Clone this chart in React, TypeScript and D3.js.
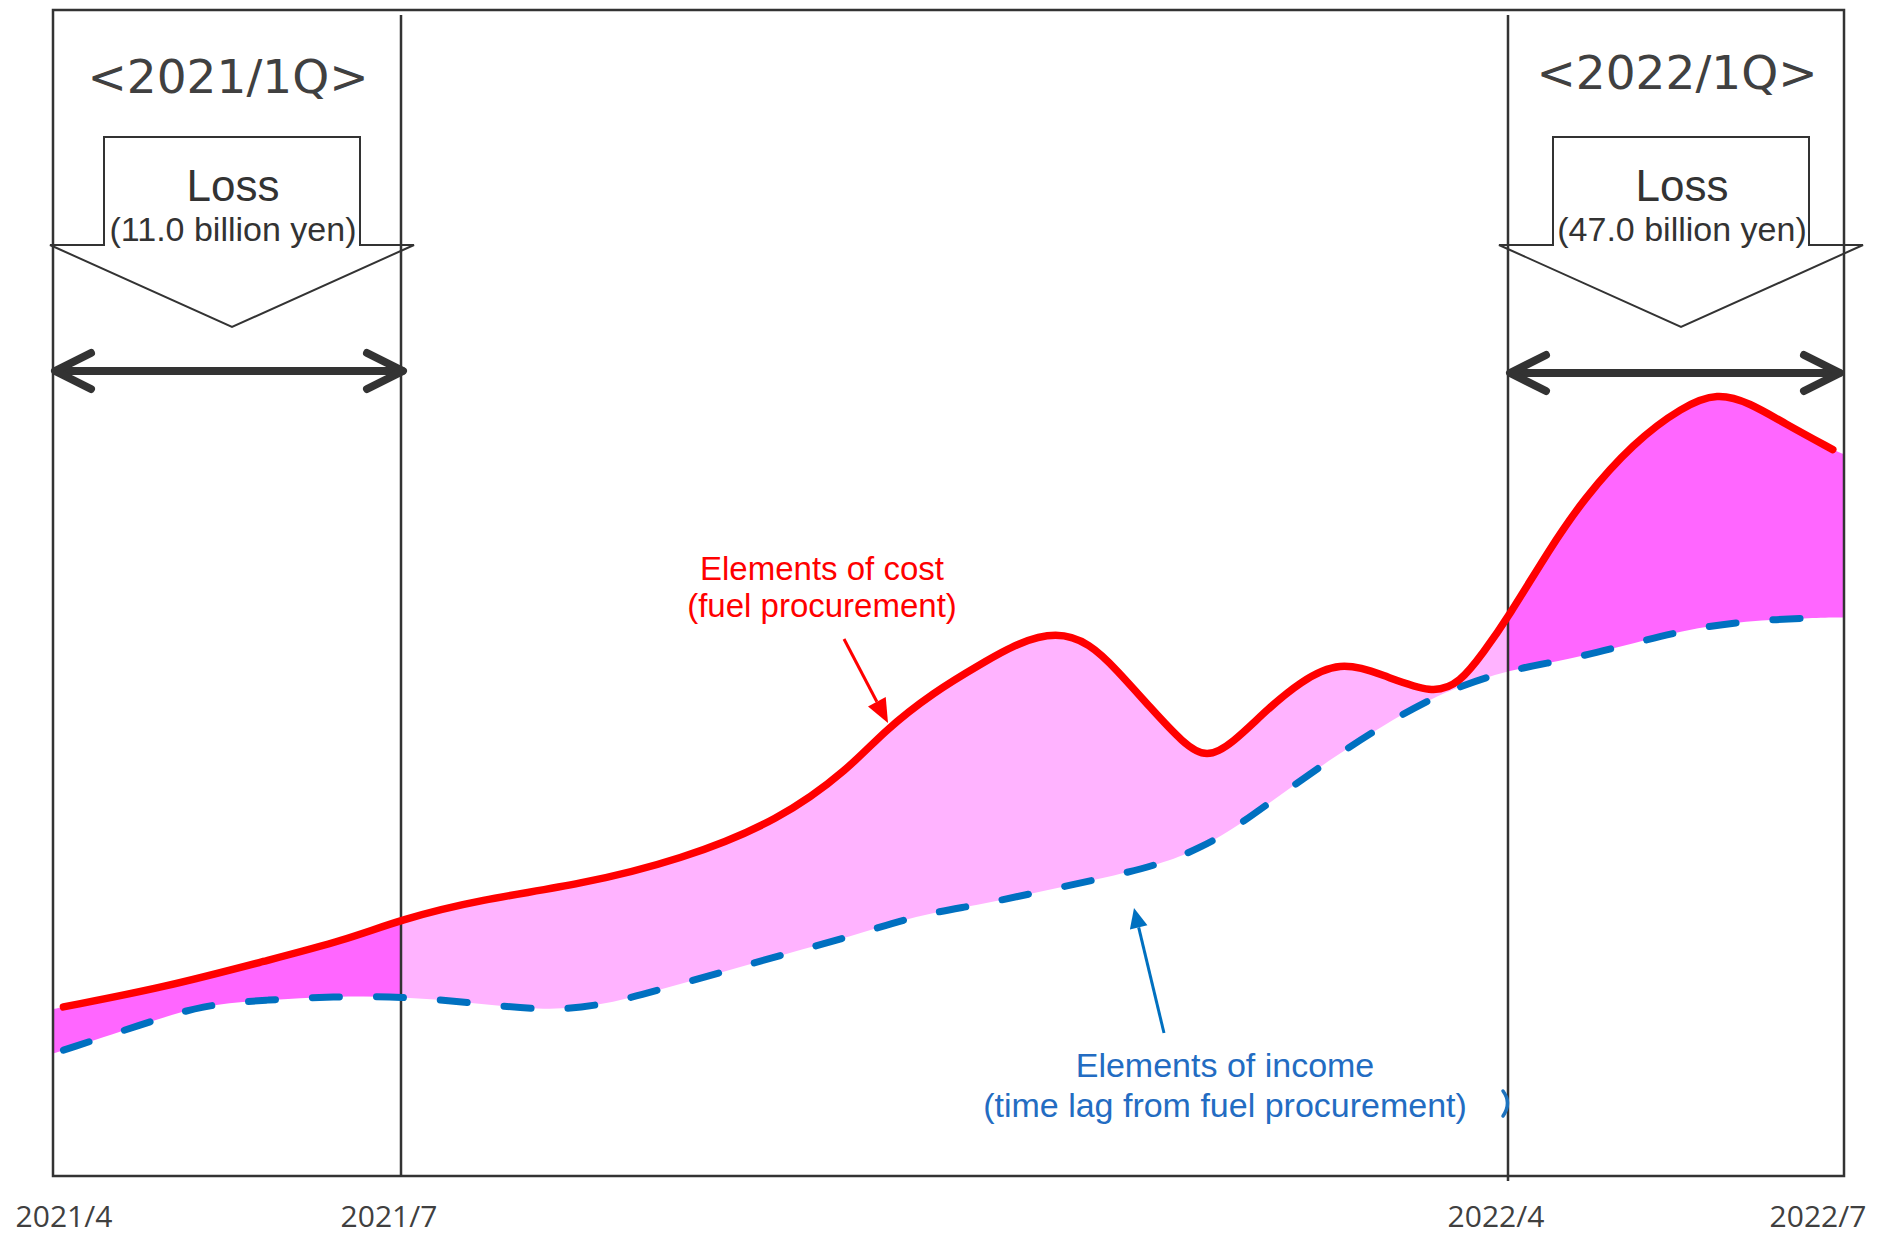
import React from 'react';
import * as d3 from 'd3';

const W = 1881;
const H = 1236;

// Month offsets counted from April 2021
const tickMonths = [0, 3, 12, 15];
const tickLabels = ['2021/4', '2021/7', '2022/4', '2022/7'];

// Cost of fuel procurement (index level)
const costMonths = [0, 0.09, 0.97, 1.85, 2.51, 3.0, 3.64, 4.46, 5.27, 6.08, 6.65, 6.92, 7.33, 7.73, 8.01, 8.33, 8.6, 8.82, 9.09, 9.36, 9.55, 9.76, 10.04, 10.31, 10.63, 10.98, 11.39, 11.61, 11.8, 12.0, 12.38, 12.67, 13.12, 13.56, 13.87, 14.16, 14.46, 14.9, 15];
const costValues = [14.3, 14.5, 16.2, 18.5, 20.2, 22.0, 23.7, 25.0, 27.1, 30.5, 35.0, 38.1, 41.5, 44.0, 45.7, 46.7, 45.7, 43.4, 40.2, 37.1, 35.8, 37.1, 40.0, 42.4, 44.2, 43.0, 41.3, 42.3, 44.9, 47.9, 53.9, 58.0, 62.9, 66.0, 67.2, 66.3, 64.6, 62.3, 61.9];

// Income, lagging behind procurement (index level)
const incomeMonths = [0, 0.09, 0.77, 1.29, 1.85, 2.41, 3.01, 3.54, 4.13, 4.59, 5.11, 5.62, 6.14, 6.65, 7.2, 7.68, 8.2, 8.74, 9.23, 9.5, 9.72, 10.15, 10.58, 11.02, 11.39, 11.59, 12.0, 12.55, 13.12, 13.7, 14.27, 14.81, 15];
const incomeValues = [10.5, 10.8, 13.0, 14.7, 15.1, 15.4, 15.4, 14.9, 14.2, 14.5, 16.0, 17.5, 19.1, 20.5, 22.4, 23.2, 24.4, 25.6, 26.9, 28.2, 29.4, 32.7, 35.9, 38.9, 41.0, 41.9, 43.4, 44.3, 45.7, 47.1, 47.7, 47.9, 47.9];

// Highlighted quarters
const quarterLabels = ['<2021/1Q>', '<2022/1Q>'];
const quarterStart = [0, 12];
const quarterEnd = [3, 15];
const lossAmounts = ['(11.0 billion yen)', '(47.0 billion yen)'];

const x = d3.scaleLinear().domain([0, 3, 12, 15]).range([53, 401, 1508, 1844]);
const y = d3.scaleLinear().domain([0, 100]).range([1176, 10]);

const line = d3
  .line<[number, number]>()
  .x((d) => x(d[0]))
  .y((d) => y(d[1]))
  .curve(d3.curveBasis);

const costPts: [number, number][] = costMonths.map((m, i) => [m, costValues[i]]);
const incomePts: [number, number][] = incomeMonths.map((m, i) => [m, incomeValues[i]]);

const m0 = tickMonths[0];
const m1 = tickMonths[tickMonths.length - 1];
const inner = (p: [number, number]) => p[0] > m0 && p[0] < m1;

const bandPath =
  (line(costPts) as string) +
  'L' +
  (line(incomePts.slice().reverse()) as string).slice(1) +
  'Z';

const DARK = '#333333';
const TEXT_GRAY = '#404040';
const SANS = '"Liberation Sans", Arial, sans-serif';

function Callout({ i }: { i: number }) {
  const c = (x(quarterStart[i]) + x(quarterEnd[i])) / 2 + 5;
  const top = 137;
  const shoulder = 245;
  const tip = 327;
  const bw = 128;
  const sw = 182;
  const pts = [
    [c - bw, top],
    [c + bw, top],
    [c + bw, shoulder],
    [c + sw, shoulder],
    [c, tip],
    [c - sw, shoulder],
    [c - bw, shoulder],
  ];
  const titleY = i === 0 ? 93 : 89;
  return (
    <g>
      <text
        x={c - 4}
        y={titleY}
        textAnchor="middle"
        fontFamily='"DejaVu Sans", sans-serif'
        fontSize={47}
        fill={TEXT_GRAY}
      >
        {quarterLabels[i]}
      </text>
      <polygon points={pts.map((p) => p.join(',')).join(' ')} fill="none" stroke={DARK} strokeWidth={2} />
      <text x={c + 1} y={201} textAnchor="middle" fontFamily={SANS} fontSize={44} fill={DARK}>
        Loss
      </text>
      <text x={c + 1} y={241} textAnchor="middle" fontFamily={SANS} fontSize={34} fill={DARK}>
        {lossAmounts[i]}
      </text>
    </g>
  );
}

function SpanArrow({ i }: { i: number }) {
  const a = x(quarterStart[i]);
  const b = x(quarterEnd[i]) + (i === 0 ? 4 : -2);
  const yy = i === 0 ? 371 : 373;
  const ax = 38;
  const ay = 18;
  return (
    <g fill="none" stroke={DARK} strokeWidth={8} strokeLinecap="round" strokeLinejoin="round">
      <line x1={a + 3} y1={yy} x2={b - 3} y2={yy} />
      <polyline points={`${a + ax},${yy - ay} ${a + 2},${yy} ${a + ax},${yy + ay}`} />
      <polyline points={`${b - ax},${yy - ay} ${b - 2},${yy} ${b - ax},${yy + ay}`} />
    </g>
  );
}

function Pointer({ x1, y1, x2, y2, color, len, half }: any) {
  const ang = Math.atan2(y2 - y1, x2 - x1);
  const bx = x2 - len * Math.cos(ang);
  const by = y2 - len * Math.sin(ang);
  const px = -Math.sin(ang) * half;
  const py = Math.cos(ang) * half;
  return (
    <g>
      <line x1={x1} y1={y1} x2={bx} y2={by} stroke={color} strokeWidth={3} />
      <polygon points={`${x2},${y2} ${bx + px},${by + py} ${bx - px},${by - py}`} fill={color} />
    </g>
  );
}

export default function App() {
  const segments = [
    { from: quarterStart[0], to: quarterEnd[0], color: '#FF66FF' },
    { from: quarterEnd[0], to: quarterStart[1], color: '#FFB3FF' },
    { from: quarterStart[1], to: quarterEnd[1], color: '#FF66FF' },
  ];
  const labelHalf = 50;
  return (
    <svg
      width={W}
      height={H}
      viewBox={`0 0 ${W} ${H}`}
      style={{ position: 'absolute', left: 0, top: 0, background: '#fff' }}
    >
      <defs>
        {segments.map((s, i) => (
          <clipPath id={`seg${i}`} key={i}>
            <rect x={x(s.from)} y={0} width={x(s.to) - x(s.from)} height={H} />
          </clipPath>
        ))}
      </defs>

      {/* spread between cost and income */}
      {segments.map((s, i) => (
        <path key={i} d={bandPath} fill={s.color} clipPath={`url(#seg${i})`} />
      ))}

      {/* quarter boundaries */}
      <line x1={x(3)} y1={15} x2={x(3)} y2={y(0)} stroke={DARK} strokeWidth={2.5} />
      <line x1={x(12)} y1={15} x2={x(12)} y2={y(0) + 5} stroke={DARK} strokeWidth={2.5} />

      {/* plot frame */}
      <rect
        x={x(m0)}
        y={y(100)}
        width={x(m1) - x(m0)}
        height={y(0) - y(100)}
        fill="none"
        stroke={DARK}
        strokeWidth={2.5}
      />

      {/* income line */}
      <path
        d={line(incomePts.filter(inner)) as string}
        fill="none"
        stroke="#0070C0"
        strokeWidth={7}
        strokeDasharray="27 37"
        strokeLinecap="round"
      />
      {/* cost line */}
      <path
        d={line(costPts.filter(inner)) as string}
        fill="none"
        stroke="#FF0000"
        strokeWidth={7.5}
        strokeLinecap="round"
        strokeLinejoin="round"
      />

      {/* small stray mark beside the 2022/4 boundary */}
      <path d="M1503,1091 Q1512,1103 1503,1116" fill="none" stroke="#1E73BE" strokeWidth={3.5} strokeLinecap="round" />

      {/* quarter callouts */}
      {quarterLabels.map((_, i) => (
        <Callout key={i} i={i} />
      ))}
      {quarterLabels.map((_, i) => (
        <SpanArrow key={i} i={i} />
      ))}

      {/* cost annotation */}
      <text x={822} y={580} textAnchor="middle" fontFamily={SANS} fontSize={33} fill="#FF0000">
        Elements of cost
      </text>
      <text x={822} y={617} textAnchor="middle" fontFamily={SANS} fontSize={33} fill="#FF0000">
        (fuel procurement)
      </text>
      <Pointer x1={844} y1={639} x2={888} y2={723} color="#FF0000" len={24} half={10} />

      {/* income annotation */}
      <text x={1225} y={1077} textAnchor="middle" fontFamily={SANS} fontSize={34} fill="#236CC2">
        Elements of income
      </text>
      <text x={1225} y={1117} textAnchor="middle" fontFamily={SANS} fontSize={34} fill="#236CC2">
        (time lag from fuel procurement)
      </text>
      <Pointer x1={1164} y1={1033} x2={1134} y2={908} color="#0070C0" len={20} half={9} />

      {/* x-axis labels */}
      {tickMonths.map((m, i) => {
        const cx = Math.min(Math.max(x(m) - 12, 14 + labelHalf), 1868 - labelHalf);
        return (
          <text
            key={i}
            x={cx}
            y={1227}
            textAnchor="middle"
            fontFamily='"Open Sans", sans-serif'
            fontSize={30}
            fill={TEXT_GRAY}
          >
            {tickLabels[i]}
          </text>
        );
      })}
    </svg>
  );
}
